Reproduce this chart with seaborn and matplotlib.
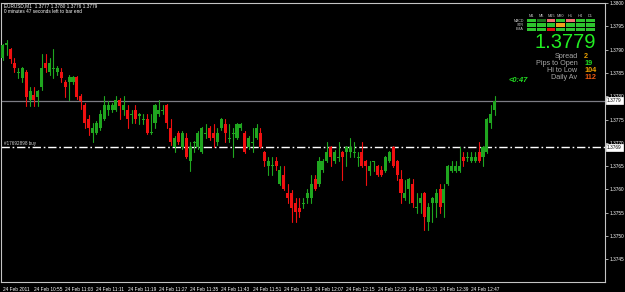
import numpy as np
import pandas as pd
import matplotlib
matplotlib.use("Agg")
import matplotlib.pyplot as plt
from matplotlib.patches import Rectangle
import seaborn as sns

# ---------------- data (EURUSD M1 candles) ----------------
opens = [
    1.37882, 1.37910, 1.37901, 1.37871, 1.37850, 1.37839, 1.37852, 1.37792, 1.37803, 1.37798,
    1.37820, 1.37871, 1.37852, 1.37858, 1.37852, 1.37852, 1.37830, 1.37830, 1.37830, 1.37841,
    1.37800, 1.37781, 1.37751, 1.37721, 1.37721, 1.37732, 1.37751, 1.37770, 1.37770, 1.37770,
    1.37792, 1.37770, 1.37770, 1.37760, 1.37770, 1.37758, 1.37749, 1.37751, 1.37721, 1.37743,
    1.37762, 1.37768, 1.37781, 1.37732, 1.37691, 1.37721, 1.37691, 1.37710, 1.37661, 1.37700,
    1.37691, 1.37680, 1.37719, 1.37732, 1.37721, 1.37702, 1.37732, 1.37740, 1.37708, 1.37719,
    1.37710, 1.37732, 1.37721, 1.37691, 1.37700, 1.37710, 1.37721, 1.37680, 1.37650, 1.37650,
    1.37661, 1.37612, 1.37631, 1.37592, 1.37592, 1.37571, 1.37560, 1.37569, 1.37582, 1.37582,
    1.37622, 1.37612, 1.37642, 1.37661, 1.37691, 1.37661, 1.37667, 1.37680, 1.37680, 1.37680,
    1.37678, 1.37667, 1.37680, 1.37661, 1.37639, 1.37659, 1.37650, 1.37642, 1.37639, 1.37661,
    1.37691, 1.37661, 1.37622, 1.37582, 1.37601, 1.37612, 1.37560, 1.37571, 1.37592, 1.37530,
    1.37571, 1.37571, 1.37601, 1.37571, 1.37612, 1.37639, 1.37639, 1.37639, 1.37670, 1.37667,
    1.37661, 1.37661, 1.37680, 1.37670, 1.37680, 1.37743, 1.37770]
highs = [
    1.37912, 1.37921, 1.37903, 1.37882, 1.37861, 1.37863, 1.37856, 1.37820, 1.37820, 1.37813,
    1.37891, 1.37891, 1.37882, 1.37901, 1.37865, 1.37861, 1.37835, 1.37845, 1.37843, 1.37843,
    1.37805, 1.37785, 1.37760, 1.37743, 1.37747, 1.37770, 1.37800, 1.37790, 1.37785, 1.37800,
    1.37796, 1.37800, 1.37781, 1.37770, 1.37781, 1.37764, 1.37762, 1.37762, 1.37762, 1.37783,
    1.37792, 1.37781, 1.37783, 1.37751, 1.37715, 1.37725, 1.37725, 1.37721, 1.37702, 1.37704,
    1.37725, 1.37734, 1.37740, 1.37736, 1.37740, 1.37732, 1.37753, 1.37751, 1.37740, 1.37732,
    1.37743, 1.37743, 1.37725, 1.37715, 1.37732, 1.37740, 1.37732, 1.37682, 1.37670, 1.37670,
    1.37670, 1.37650, 1.37650, 1.37612, 1.37599, 1.37582, 1.37582, 1.37582, 1.37601, 1.37631,
    1.37631, 1.37670, 1.37665, 1.37702, 1.37693, 1.37685, 1.37702, 1.37682, 1.37693, 1.37710,
    1.37702, 1.37680, 1.37702, 1.37663, 1.37661, 1.37661, 1.37652, 1.37650, 1.37672, 1.37682,
    1.37693, 1.37663, 1.37642, 1.37620, 1.37624, 1.37622, 1.37592, 1.37592, 1.37594, 1.37571,
    1.37584, 1.37601, 1.37612, 1.37612, 1.37652, 1.37661, 1.37661, 1.37691, 1.37680, 1.37680,
    1.37680, 1.37680, 1.37702, 1.37693, 1.37753, 1.37781, 1.37800]
lows = [
    1.37878, 1.37888, 1.37871, 1.37852, 1.37839, 1.37830, 1.37779, 1.37779, 1.37779, 1.37779,
    1.37813, 1.37852, 1.37845, 1.37839, 1.37845, 1.37830, 1.37798, 1.37792, 1.37826, 1.37794,
    1.37773, 1.37732, 1.37717, 1.37702, 1.37719, 1.37727, 1.37749, 1.37760, 1.37766, 1.37768,
    1.37751, 1.37760, 1.37732, 1.37743, 1.37743, 1.37740, 1.37740, 1.37719, 1.37719, 1.37732,
    1.37758, 1.37762, 1.37732, 1.37695, 1.37680, 1.37697, 1.37687, 1.37667, 1.37639, 1.37680,
    1.37687, 1.37678, 1.37710, 1.37706, 1.37691, 1.37695, 1.37727, 1.37702, 1.37702, 1.37670,
    1.37708, 1.37727, 1.37678, 1.37687, 1.37680, 1.37708, 1.37689, 1.37650, 1.37631, 1.37631,
    1.37642, 1.37609, 1.37599, 1.37571, 1.37530, 1.37530, 1.37541, 1.37560, 1.37571, 1.37571,
    1.37599, 1.37607, 1.37637, 1.37659, 1.37650, 1.37657, 1.37661, 1.37620, 1.37650, 1.37670,
    1.37670, 1.37650, 1.37648, 1.37609, 1.37631, 1.37639, 1.37629, 1.37629, 1.37637, 1.37659,
    1.37648, 1.37620, 1.37571, 1.37577, 1.37571, 1.37562, 1.37549, 1.37549, 1.37513, 1.37513,
    1.37530, 1.37541, 1.37549, 1.37541, 1.37609, 1.37637, 1.37637, 1.37637, 1.37650, 1.37661,
    1.37659, 1.37659, 1.37659, 1.37650, 1.37678, 1.37732, 1.37760]
closes = [
    1.37910, 1.37914, 1.37880, 1.37861, 1.37852, 1.37861, 1.37798, 1.37811, 1.37792, 1.37811,
    1.37861, 1.37861, 1.37871, 1.37861, 1.37861, 1.37839, 1.37820, 1.37841, 1.37841, 1.37798,
    1.37790, 1.37743, 1.37732, 1.37732, 1.37743, 1.37762, 1.37781, 1.37781, 1.37781, 1.37792,
    1.37779, 1.37781, 1.37751, 1.37762, 1.37751, 1.37762, 1.37751, 1.37721, 1.37723, 1.37781,
    1.37770, 1.37770, 1.37743, 1.37702, 1.37710, 1.37702, 1.37721, 1.37670, 1.37691, 1.37702,
    1.37721, 1.37732, 1.37721, 1.37710, 1.37710, 1.37721, 1.37751, 1.37721, 1.37710, 1.37721,
    1.37740, 1.37740, 1.37680, 1.37710, 1.37702, 1.37732, 1.37691, 1.37661, 1.37661, 1.37652,
    1.37650, 1.37642, 1.37601, 1.37582, 1.37560, 1.37551, 1.37551, 1.37571, 1.37592, 1.37612,
    1.37601, 1.37661, 1.37661, 1.37680, 1.37670, 1.37680, 1.37670, 1.37670, 1.37691, 1.37691,
    1.37680, 1.37670, 1.37650, 1.37650, 1.37650, 1.37661, 1.37631, 1.37631, 1.37670, 1.37680,
    1.37650, 1.37631, 1.37592, 1.37592, 1.37622, 1.37571, 1.37562, 1.37582, 1.37541, 1.37562,
    1.37582, 1.37592, 1.37562, 1.37601, 1.37650, 1.37650, 1.37650, 1.37650, 1.37661, 1.37670,
    1.37670, 1.37670, 1.37661, 1.37691, 1.37751, 1.37762, 1.37790]

time_labels = ["24 Feb 2011", "24 Feb 10:55", "24 Feb 11:03", "24 Feb 11:11",
               "24 Feb 11:19", "24 Feb 11:27", "24 Feb 11:35", "24 Feb 11:43",
               "24 Feb 11:51", "24 Feb 11:59", "24 Feb 12:07", "24 Feb 12:15",
               "24 Feb 12:23", "24 Feb 12:31", "24 Feb 12:39", "24 Feb 12:47"]
time_label_bars = [0, 8, 16, 24, 32, 40, 48, 56, 64, 72, 80, 88, 96, 104, 112, 120]
price_ticks = [1.3745, 1.3750, 1.3755, 1.3760, 1.3765, 1.3770, 1.3775,
               1.3780, 1.3785, 1.3790, 1.3795, 1.3800]
bid_price = 1.3779
order_price = 1.3769
order_label = "#17692898 buy"
header_line = "EURUSD,M1  1.3777 1.3780 1.3776 1.3779"
timer_line = "0 minutes 47 seconds left to bar end"

tf_labels = ["M1", "M5", "M15", "M30", "H1", "H4", "D1"]
ind_labels = ["MACD", "STR", "EMA"]
signals = [
    ["up", "weak", "dn_soft", "up", "dn_soft", "up", "up"],
    ["up", "up", "up", "flat", "up", "up", "up"],
    ["up", "up", "down", "up", "up", "up", "up"],
]
big_price = "1.3779"
stat_names = ["Spread", "Pips to Open", "Hi to Low", "Daily Av"]
stat_values = ["2", "19", "104", "112"]
countdown = "<0:47"

# ---------------- style ----------------
sns.set_theme(style="dark", rc={"axes.facecolor": "black",
                                "figure.facecolor": "black",
                                "axes.grid": False})
plt.rcParams["font.family"] = ["Liberation Sans", "DejaVu Sans"]

UP = "#1fa61f"
DOWN = "#f01010"
W, H = 625, 292

fig = plt.figure(figsize=(6.25, 2.92), dpi=100, facecolor="black")
ax = fig.add_axes([1 / W, 1 - 282 / H, 604 / W, 279 / H])
ax.set_facecolor("black")

df = pd.DataFrame({"bar": np.arange(len(opens)), "open": opens, "high": highs,
                   "low": lows, "close": closes})
df["dir"] = np.where(df["close"] >= df["open"], "up", "down")

# horizontal price lines
ax.axhline(bid_price, color="#7c7c84", lw=0.9, zorder=1)
ax.axhline(order_price, color="white", lw=1.0, dashes=(6, 2, 1.2, 2), zorder=1)

# wicks
wick = pd.concat([df.assign(price=df["low"]), df.assign(price=df["high"])])
sns.lineplot(data=wick, x="bar", y="price", units="bar", estimator=None,
             hue="dir", palette={"up": UP, "down": DOWN}, sort=False,
             legend=False, linewidth=0.8, ax=ax, zorder=2)

# bodies
bottom = np.minimum(df["open"], df["close"])
height = np.maximum(np.abs(df["close"] - df["open"]), 0.000025)
ax.bar(df["bar"], height, bottom=bottom, width=0.78,
       color=[UP if d == "up" else DOWN for d in df["dir"]], linewidth=0, zorder=3)

ax.set_xlim(-0.44, 154.24)
ax.set_ylim(1.374013, 1.3800)
ax.set_xlabel("")
ax.set_ylabel("")

for s in ax.spines.values():
    s.set_visible(True)
    s.set_color("#c4c4c4")
    s.set_linewidth(0.8)

ax.yaxis.tick_right()
ax.set_yticks(price_ticks)
ax.set_yticklabels([f"{p:.4f}" for p in price_ticks])
ax.tick_params(axis="y", colors="#c4c4c4", labelcolor="white", labelsize=3.4,
               length=2.2, width=0.6, pad=1.2, direction="out")
ax.set_xticks(time_label_bars)
ax.set_xticklabels(time_labels, ha="left")
ax.tick_params(axis="x", colors="#c4c4c4", labelcolor="white", labelsize=3.4,
               length=2.2, width=0.6, pad=1.2, direction="out")

# order label
ax.text(0.005, order_price + 0.00003, order_label, color="#d0d0d0", fontsize=3.3,
        transform=ax.get_yaxis_transform(), va="bottom", ha="left")

def fx(px):
    return px / W

def fy(py):
    return 1 - py / H

# price boxes on the right axis
for p in (bid_price, order_price):
    ypx = 3 + (1.3800 - p) / 0.0001 * 4.66
    fig.text(fx(607), fy(ypx), f"{p:.4f}", color="black", fontsize=3.4,
             ha="left", va="center",
             bbox=dict(boxstyle="square,pad=0.2", fc="white", ec="white", lw=0.5))

# top-left info text
fig.text(fx(4), fy(5.6), header_line, color="white", fontsize=3.4, ha="left", va="center")
fig.text(fx(4), fy(11.2), timer_line, color="white", fontsize=3.4, ha="left", va="center")

# dashboard
sig_color = {"up": "#2ec42e", "weak": "#1c6e1c", "dn_soft": "#ee7070",
             "flat": "#f0a020", "down": "#e01010"}
col_x0, col_step, cell_w = 527, 9.8, 8.8
row_y0, row_step, cell_h = 19.0, 4.3, 3.3
for j, lab in enumerate(tf_labels):
    fig.text(fx(col_x0 + j * col_step + cell_w / 2), fy(15.8), lab, color="#c8c8c8",
             fontsize=2.8, ha="center", va="center")
for i, lab in enumerate(ind_labels):
    fig.text(fx(524), fy(row_y0 + i * row_step + cell_h / 2), lab, color="#c8c8c8",
             fontsize=2.6, ha="right", va="center")
    for j, st in enumerate(signals[i]):
        x0 = col_x0 + j * col_step
        y0 = row_y0 + i * row_step
        fig.add_artist(Rectangle((fx(x0), fy(y0 + cell_h)), cell_w / W, cell_h / H,
                                 transform=fig.transFigure, facecolor=sig_color[st],
                                 edgecolor="none"))

fig.text(fx(596), fy(48.2), big_price, color="#22ee22", fontsize=14.5,
         ha="right", va="baseline")
stat_colors = ["#e8a000", "#22dd22", "#f0a000", "#f05a10"]
stat_y = [56.8, 63.6, 70.6, 77.6]
for name, val, c, yy in zip(stat_names, stat_values, stat_colors, stat_y):
    fig.text(fx(577.5), fy(yy), name, color="#a8a8a8", fontsize=5.2, ha="right", va="center")
    fig.text(fx(584), fy(yy), val, color=c, fontsize=5.2, ha="left", va="center",
             fontweight="bold")
fig.text(fx(509), fy(80.5), countdown, color="#22dd22", fontsize=5.4, ha="left",
         va="center", style="italic", fontweight="bold")

fig.savefig("out.png", dpi=100, facecolor="black")
